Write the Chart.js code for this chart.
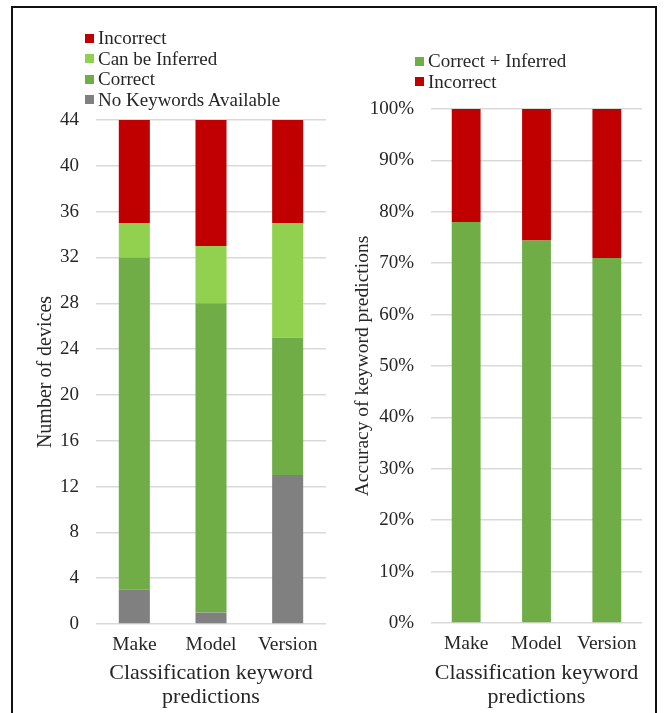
<!DOCTYPE html>
<html>
<head>
<meta charset="utf-8">
<script src="https://cdn.jsdelivr.net/npm/chart.js@4/dist/chart.umd.min.js"></script>
<style>
  html, body { margin: 0; padding: 0; background: #fff; }
  body { width: 670px; height: 713px; position: relative; overflow: hidden; font-family: "Liberation Serif", "Times New Roman", serif; }
  #frame { position: absolute; left: 11px; top: 6px; width: 646px; height: 720px; border: 2px solid #111; box-sizing: border-box; }
  .box { position: absolute; top: 0; height: 713px; }
  .legend { position: absolute; font-size: 19px; color: #262626; line-height: 20.5px; }
  .legend div { white-space: nowrap; display: flex; align-items: center; }
  .legend span.sw { display: inline-block; width: 9px; height: 9px; margin-right: 4px; }
</style>
</head>
<body>
<div id="frame"></div>
<div class="box" id="leftBox" style="left:14px;width:321px;"><canvas id="counts"></canvas></div>
<div class="box" id="rightBox" style="left:335px;width:323px;"><canvas id="accuracy"></canvas></div>
<div class="legend" id="countsLegend" style="left:85px;top:28px;"></div>
<div class="legend" id="accuracyLegend" style="left:415px;top:51px;"></div>
<script>
// Keyword categories shared by both panels
const categories = ['Make', 'Model', 'Version'];

// Number of devices per outcome (stacked bottom to top)
const noKeywords   = [3, 1, 13];
const correct      = [29, 27, 12];
const canInfer     = [3, 5, 10];
const incorrect    = [9, 11, 9];

// Accuracy among devices with keywords (%)
const correctPlusInferred = [78.0, 74.4, 71.0];
const incorrectPct        = [22.0, 25.6, 29.0];

// Tick settings
const countTicks = { min: 0, max: 44, step: 4 };
const pctTicks   = { min: 0, max: 100, step: 10 };

const RED = '#C00000', LIGHT_GREEN = '#92D050', GREEN = '#70AD47', GREY = '#808080';
const TEXT = '#262626', GRID = '#D9D9D9';
const FAMILY = '"Liberation Serif", "Times New Roman", serif';
const FONT = { family: FAMILY, size: 19 };
const TITLE_FONT = { family: FAMILY, size: 22, lineHeight: 24 / 22 };

function fixedWidth(w) { return s => { s.width = w; }; }
function fixedHeight(h) { return s => { s.height = h; }; }

function buildLegend(el, chart, order) {
  order.forEach(i => {
    const ds = chart.data.datasets[i];
    const row = document.createElement('div');
    const sw = document.createElement('span');
    sw.className = 'sw';
    sw.style.background = ds.backgroundColor;
    row.appendChild(sw);
    row.appendChild(document.createTextNode(ds.label));
    el.appendChild(row);
  });
}

function commonX(height, titleLines) {
  return {
    stacked: true,
    grid: { display: false },
    border: { display: false },
    ticks: { color: TEXT, font: { family: FAMILY, size: 19.5 }, padding: 1, maxRotation: 0 },
    title: { display: true, text: titleLines, color: TEXT, font: TITLE_FONT, padding: { top: 0, bottom: 4 } },
    afterFit: fixedHeight(height)
  };
}

const countsChart = new Chart(document.getElementById('counts'), {
  type: 'bar',
  data: {
    labels: categories,
    datasets: [
      { label: 'No Keywords Available', data: noKeywords, backgroundColor: GREY },
      { label: 'Correct', data: correct, backgroundColor: GREEN },
      { label: 'Can be Inferred', data: canInfer, backgroundColor: LIGHT_GREEN },
      { label: 'Incorrect', data: incorrect, backgroundColor: RED }
    ]
  },
  options: {
    responsive: true,
    maintainAspectRatio: false,
    animation: false,
    layout: { padding: { top: 120, right: 9, bottom: 0, left: 0 } },
    datasets: { bar: { categoryPercentage: 1, barPercentage: 0.405, borderWidth: 0 } },
    plugins: { legend: { display: false }, tooltip: { enabled: false } },
    scales: {
      x: commonX(89, ['Classification keyword', 'predictions']),
      y: {
        stacked: true,
        min: countTicks.min, max: countTicks.max,
        ticks: { stepSize: countTicks.step, color: TEXT, font: FONT, padding: 17 },
        grid: { color: GRID, lineWidth: 1.5, drawTicks: false },
        border: { display: false },
        title: { display: true, text: 'Number of devices', color: TEXT, font: { family: FAMILY, size: 20 }, padding: { top: 20, bottom: 0 } },
        afterFit: fixedWidth(82)
      }
    }
  }
});
buildLegend(document.getElementById('countsLegend'), countsChart, [3, 2, 1, 0]);

const accuracyChart = new Chart(document.getElementById('accuracy'), {
  type: 'bar',
  data: {
    labels: categories,
    datasets: [
      { label: 'Correct + Inferred', data: correctPlusInferred, backgroundColor: GREEN },
      { label: 'Incorrect', data: incorrectPct, backgroundColor: RED }
    ]
  },
  options: {
    responsive: true,
    maintainAspectRatio: false,
    animation: false,
    layout: { padding: { top: 109, right: 16, bottom: 0, left: 0 } },
    datasets: { bar: { categoryPercentage: 1, barPercentage: 0.41, borderWidth: 0 } },
    plugins: { legend: { display: false }, tooltip: { enabled: false } },
    scales: {
      x: commonX(90, ['Classification keyword', 'predictions']),
      y: {
        stacked: true,
        min: pctTicks.min, max: pctTicks.max,
        ticks: { stepSize: pctTicks.step, color: TEXT, font: FONT, padding: 17, callback: v => v + '%' },
        grid: { color: GRID, lineWidth: 1.5, drawTicks: false },
        border: { display: false },
        title: { display: true, text: 'Accuracy of keyword predictions', color: TEXT, font: { family: FAMILY, size: 19.5 }, padding: { top: 16, bottom: 0 } },
        afterFit: fixedWidth(96)
      }
    }
  }
});
buildLegend(document.getElementById('accuracyLegend'), accuracyChart, [0, 1]);
</script>
</body>
</html>
